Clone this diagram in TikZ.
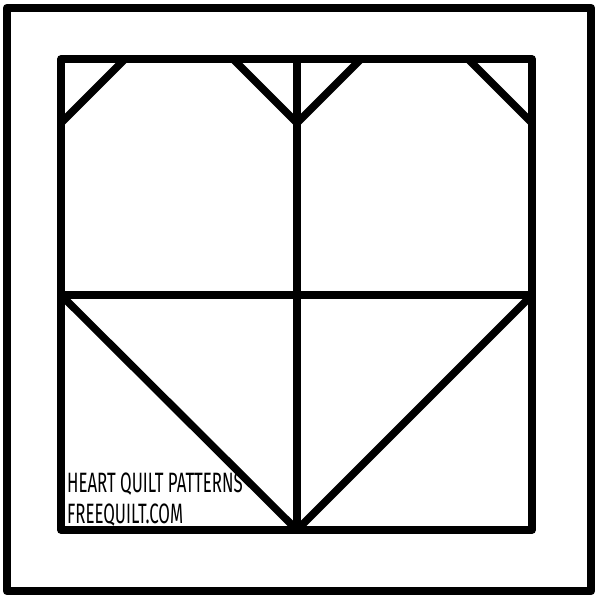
\documentclass[tikz,border=0pt]{standalone}
\usepackage{fontspec}
\newfontfamily\quiltfont[FakeStretch=0.6]{Fira Sans}
\tikzset{
  frame/.style={line width=8.5pt, line join=round, line cap=round},
  seam/.style={line width=7.5pt, line join=round, line cap=round},
  label/.style={anchor=base west, inner sep=0pt, font=\quiltfont\fontsize{28}{28}\selectfont}
}
\begin{document}
\begin{tikzpicture}[x=1pt,y=-1pt]
\useasboundingbox (0,0) rectangle (600,600);
\fill[white] (0,0) rectangle (600,600);
% outer frame
\draw[frame] (7,8) rectangle (591,591);
% inner block
\draw[seam] (61,59) rectangle (532,530);
% center cross
\draw[seam] (297,59) -- (297,530);
\draw[seam] (61,295) -- (532,295);
% top corner triangles
\draw[seam] (125,59) -- (61,123);
\draw[seam] (468,59) -- (532,123);
% top centre V
\draw[seam] (233,59) -- (297,123) -- (361,59);
% bottom big V
\draw[seam] (61,295) -- (297,530) -- (532,295);
% labels
\node[label] (t1) at (67,492) {HEART QUILT PATTERNS};
\node[label] (t2) at (67,523) {FREEQUILT.COM};
\end{tikzpicture}
\end{document}
